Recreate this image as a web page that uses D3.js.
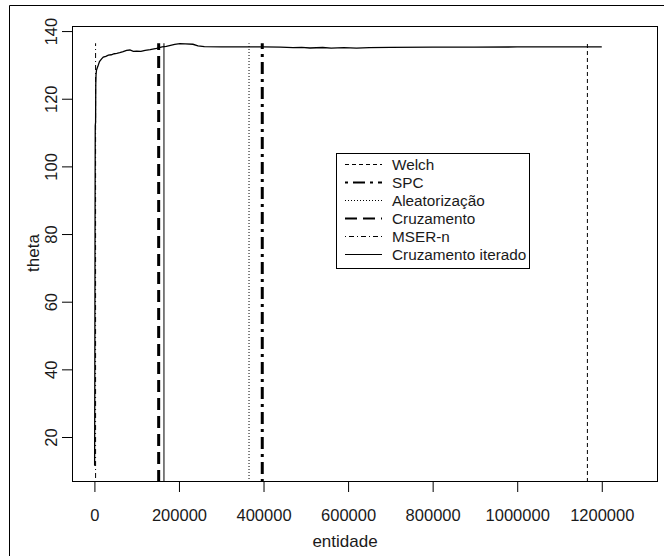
<!DOCTYPE html>
<html>
<head>
<meta charset="utf-8">
<script src="https://cdn.jsdelivr.net/npm/d3@7"></script>
<style>
  body { margin: 0; background: #fff; }
  svg { display: block; font-family: "Liberation Sans", Arial, sans-serif; }
</style>
</head>
<body>
<svg id="chart"></svg>
<script>
const width = 664;
const height = 556;

// curve "Cruzamento iterado": entidade vs theta
const curveX = [500, 1000, 1500, 2000, 2800, 3200, 3800, 5000, 8000, 12000, 17000, 21000, 27000,
  33000, 40000, 47000, 53000, 60000, 68000, 76000, 84000, 92000, 100000, 110000, 120000, 132000,
  147000, 160000, 170000, 180000, 190000, 202000, 215000, 233000, 245000, 260000, 300000, 350000,
  400000, 440000, 470000, 490000, 510000, 540000, 560000, 590000, 620000, 650000, 700000, 800000,
  900000, 1000000, 1100000, 1200000];
const curveY = [11.5, 40, 80, 112, 113, 124, 127, 128.5, 129.5, 131, 131.8, 132.3, 132.5,
  132.9, 133, 133.3, 133.4, 133.6, 133.9, 134.3, 134.4, 134.0, 134.1, 134.0, 134.3, 134.5,
  134.9, 135.3, 135.5, 135.8, 136.1, 136.3, 136.2, 136.1, 135.6, 135.4, 135.35, 135.3,
  135.3, 135.25, 135.1, 135.2, 135.0, 135.15, 134.95, 135.1, 134.95, 135.1, 135.2, 135.25,
  135.25, 135.3, 135.3, 135.3];

// truncation points for each method
const methods = ["Welch", "SPC", "Aleatorização", "Cruzamento", "MSER-n", "Cruzamento iterado"];
const cutPoints = [1166000, 397000, 365700, 152000, 2800, 164500];
const cutTop = 136.4;

const xTicks = [0, 200000, 400000, 600000, 800000, 1000000, 1200000];
const yTicks = [20, 40, 60, 80, 100, 120, 140];

// line styles per method (same order as methods)
const styles = [
  { w: 1, dash: "4,3" },
  { w: 3, dash: "3,5,12,5" },
  { w: 1, dash: "1,2" },
  { w: 3, dash: "12,6" },
  { w: 1, dash: "1,3,5,3" },
  { w: 1, dash: null }
];

const margin = { left: 72, right: 6, top: 26, bottom: 74 };

const x = d3.scaleLinear().domain([-53000, 1333000]).range([margin.left, width - margin.right]);
const y = d3.scaleLinear().domain([6.7, 141.5]).range([height - margin.bottom, margin.top]);

const svg = d3.select("#chart")
  .attr("width", width)
  .attr("height", height)
  .attr("viewBox", [0, 0, width, height]);

// outer frame (only left/top visible in the crop)
svg.append("path")
  .attr("d", `M9.5,${height}V5.5H${width}`)
  .attr("fill", "none")
  .attr("stroke", "#000");

svg.append("clipPath").attr("id", "clip")
  .append("rect")
  .attr("x", margin.left).attr("y", margin.top)
  .attr("width", width - margin.left - margin.right)
  .attr("height", height - margin.top - margin.bottom);

const plot = svg.append("g").attr("clip-path", "url(#clip)");

// vertical truncation lines
plot.selectAll("line.cut")
  .data(cutPoints)
  .join("line")
  .attr("class", "cut")
  .attr("x1", d => x(d)).attr("x2", d => x(d))
  .attr("y1", y(6.7)).attr("y2", y(cutTop))
  .attr("stroke", "#000")
  .attr("stroke-width", (d, i) => styles[i].w)
  .attr("stroke-dasharray", (d, i) => styles[i].dash);

// the curve
const pts = curveX.map((v, i) => [v, curveY[i]]);
plot.append("path")
  .datum(pts)
  .attr("fill", "none")
  .attr("stroke", "#000")
  .attr("stroke-width", 1.3)
  .attr("d", d3.line().x(d => x(d[0])).y(d => y(d[1])));

// box
svg.append("rect")
  .attr("x", margin.left + 0.5).attr("y", margin.top + 0.5)
  .attr("width", width - margin.left - margin.right - 1)
  .attr("height", height - margin.top - margin.bottom - 1)
  .attr("fill", "none")
  .attr("stroke", "#000");

// axes
const xAxis = svg.append("g")
  .attr("transform", `translate(0,${height - margin.bottom})`)
  .call(d3.axisBottom(x).tickValues(xTicks).tickSize(10).tickSizeOuter(0).tickFormat(d3.format("d")));
xAxis.select(".domain").remove();
xAxis.selectAll("text")
  .attr("y", 27)
  .attr("font-size", 16.5)
  .attr("font-family", "Liberation Sans, Arial, sans-serif")
  .attr("fill", "#1a1a1a");

const yAxis = svg.append("g")
  .attr("transform", `translate(${margin.left},0)`)
  .call(d3.axisLeft(y).tickValues(yTicks).tickSize(10).tickSizeOuter(0));
yAxis.select(".domain").remove();
yAxis.selectAll("text")
  .attr("x", null).attr("dy", null)
  .attr("transform", "translate(-21,0) rotate(-90)")
  .attr("text-anchor", "middle")
  .attr("dy", "0.35em")
  .attr("font-size", 16.5)
  .attr("font-family", "Liberation Sans, Arial, sans-serif")
  .attr("fill", "#1a1a1a");

// axis titles
svg.append("text")
  .attr("x", 345).attr("y", 547)
  .attr("text-anchor", "middle")
  .attr("font-size", 17)
  .attr("fill", "#1a1a1a")
  .text("entidade");

svg.append("text")
  .attr("transform", "translate(39,253) rotate(-90)")
  .attr("text-anchor", "middle")
  .attr("font-size", 17)
  .attr("fill", "#1a1a1a")
  .text("theta");

// legend
const legend = svg.append("g");
legend.append("rect")
  .attr("x", 336.5).attr("y", 153.5)
  .attr("width", 193).attr("height", 115)
  .attr("fill", "#fff")
  .attr("stroke", "#000");

const items = legend.selectAll("g.item")
  .data(methods)
  .join("g")
  .attr("class", "item")
  .attr("transform", (d, i) => `translate(0,${164.5 + i * 18})`);

items.append("line")
  .attr("x1", 345).attr("x2", 382)
  .attr("stroke", "#000")
  .attr("stroke-width", (d, i) => styles[i].w === 3 ? 2.2 : 1)
  .attr("stroke-dasharray", (d, i) => styles[i].dash);

items.append("text")
  .attr("x", 392)
  .attr("dy", "0.35em")
  .attr("font-size", 15.3)
  .attr("fill", "#1a1a1a")
  .text(d => d);
</script>
</body>
</html>
